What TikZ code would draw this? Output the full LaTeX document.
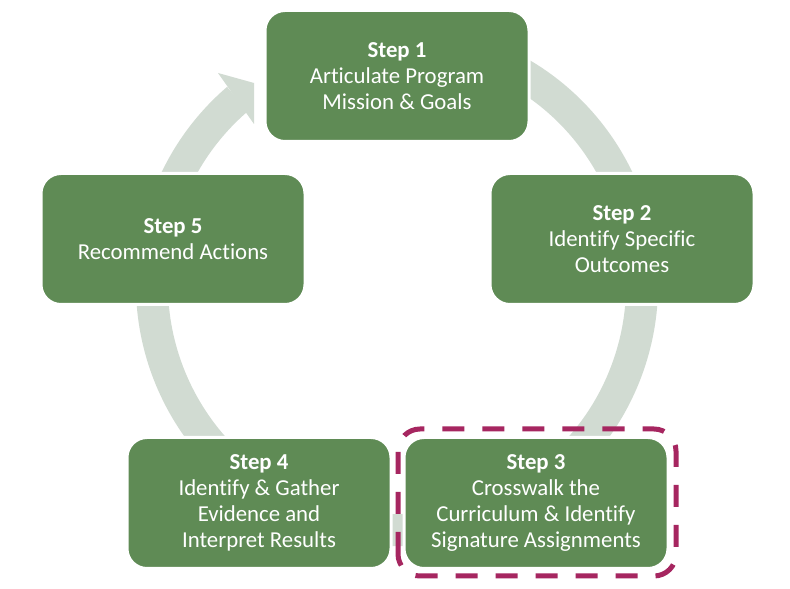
\documentclass[tikz,border=0pt]{standalone}
\usepackage{fontspec}
\setmainfont[Ligatures=NoCommon]{Carlito}
\usetikzlibrary{calc}
\definecolor{boxgreen}{HTML}{5F8B55}
\definecolor{ringgray}{HTML}{D1DBD2}
\definecolor{dashmag}{HTML}{A62660}
\begin{document}
\begin{tikzpicture}[x=1pt,y=1pt,
  stepbox/.style={rectangle, rounded corners=20pt, fill=boxgreen, draw=white,
    line width=3pt, minimum width=264pt, minimum height=131pt, text=white,
    align=center, font=\fontsize{22.8}{26}\selectfont, inner sep=0pt},
  ring/.style={draw=ringgray, line width=32pt},
  ringhead/.style={fill=ringgray},
  focus/.style={draw=dashmag, line width=5pt, dash pattern=on 22pt off 18pt,
    rounded corners=22pt}]
\fill[white] (0,0) rectangle (790,589);
\useasboundingbox (0,0) rectangle (790,589);
% ring
\coordinate (c) at (397,304);
\draw[ring] ($(c)+(70:245)$) arc[start angle=70, end angle=-229.4, radius=245];
\coordinate (ha) at (218,516);
\coordinate (ht) at (254,506);
\coordinate (hb) at (254,465);
\fill[ringhead] (ha) -- (ht) -- (hb) -- cycle;
% boxes
\node[stepbox] (b1) at (397,513) {\textbf{Step 1}\\Articulate Program\\Mission \& Goals};
\node[stepbox] (b2) at (622,350) {\textbf{Step 2}\\Identify Specific\\Outcomes};
\node[stepbox] (b3) at (536,86) {\textbf{Step 3}\\Crosswalk the\\Curriculum \& Identify\\Signature Assignments};
\node[stepbox] (b4) at (259,86) {\textbf{Step 4}\\Identify \& Gather\\Evidence and\\Interpret Results};
\node[stepbox] (b5) at (173,350) {\textbf{Step 5}\\Recommend Actions};
% highlight
\draw[focus] (398,13) rectangle (676,160);
\end{tikzpicture}
\end{document}
